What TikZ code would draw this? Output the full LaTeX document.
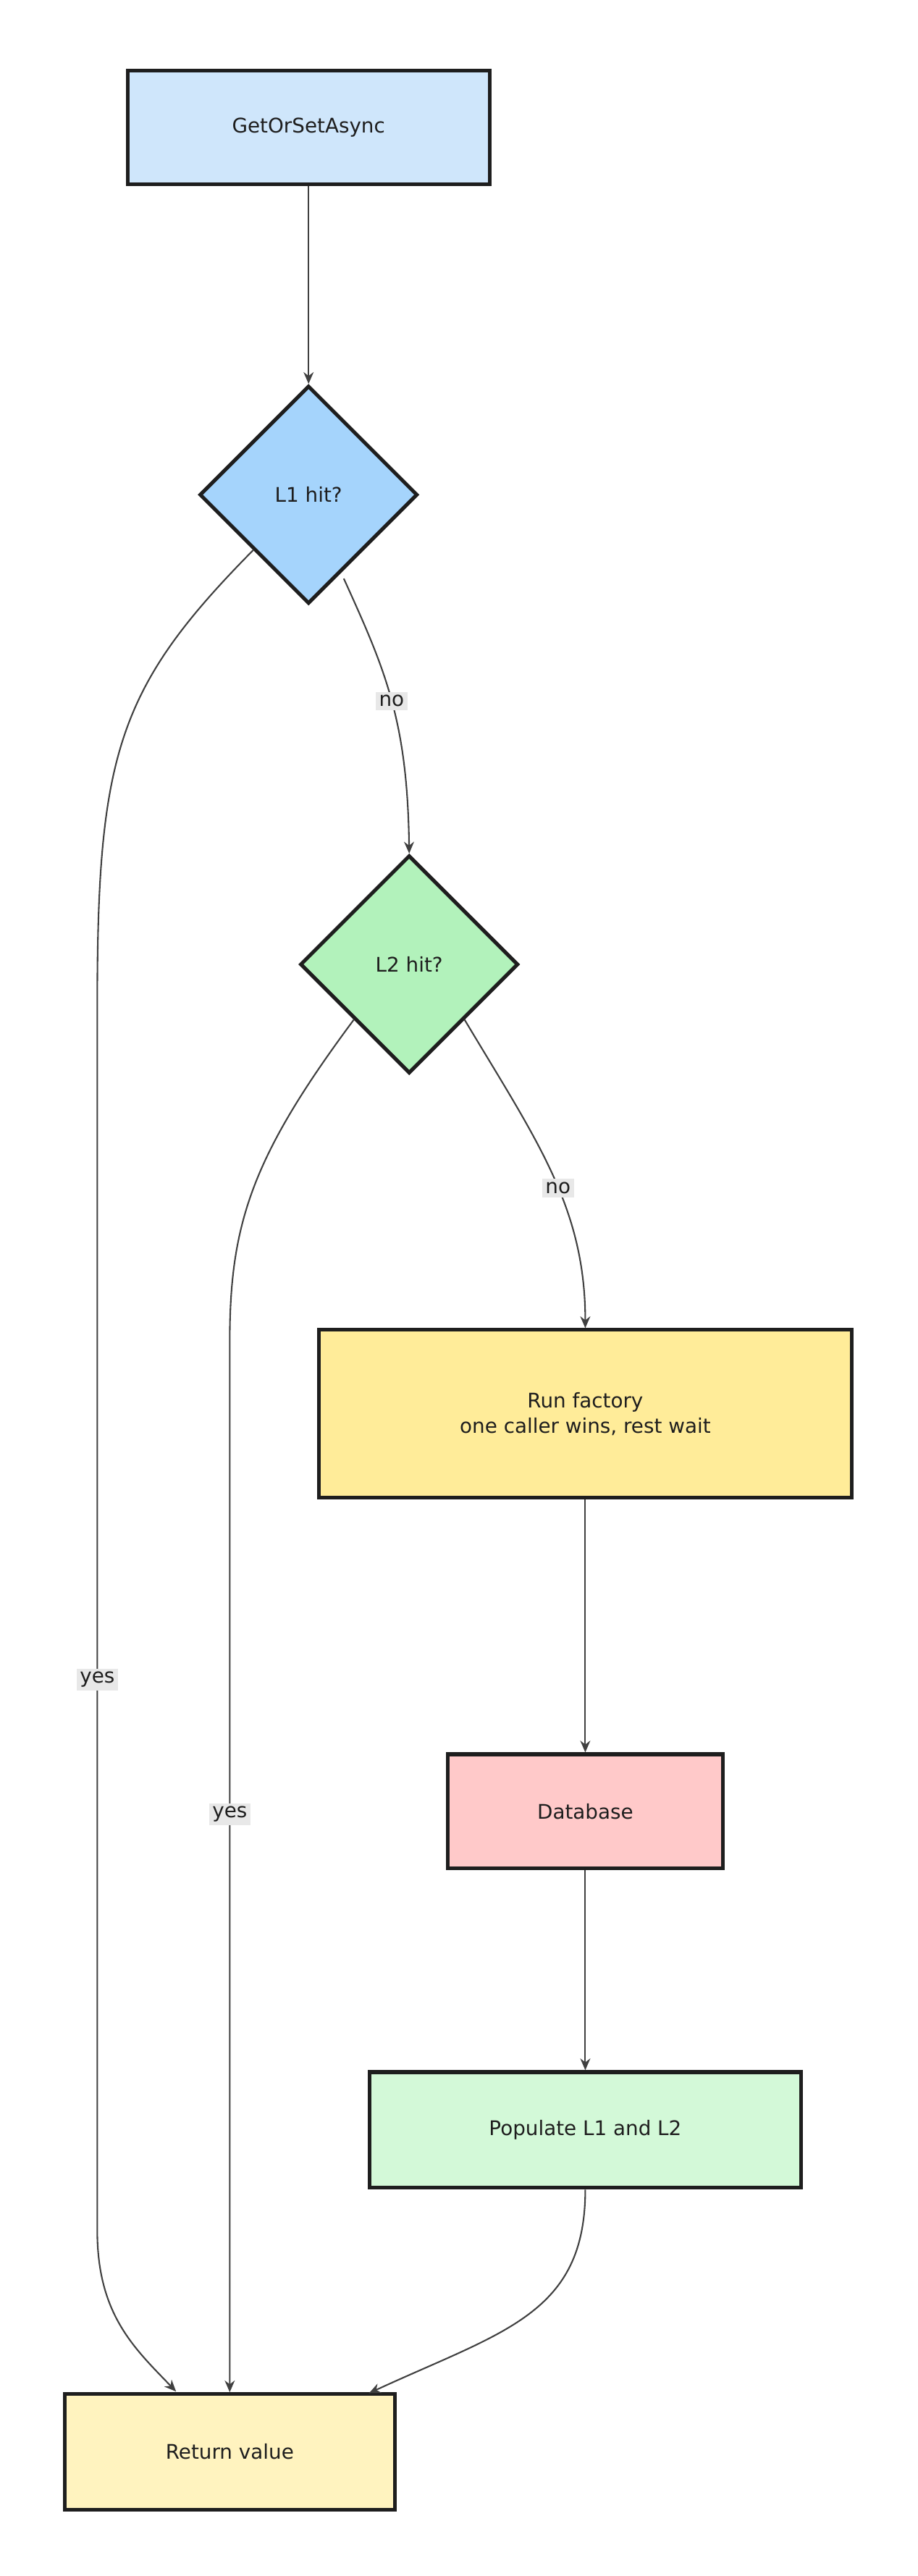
\documentclass[tikz,border=0pt]{standalone}
\usepackage{fontspec}
\setmainfont{DejaVu Sans}
\usetikzlibrary{shapes.geometric,arrows.meta}
\definecolor{cA}{HTML}{CFE6FB}\definecolor{cB}{HTML}{A5D4FC}
\definecolor{cC}{HTML}{B2F2BB}\definecolor{cD}{HTML}{FFEC99}
\definecolor{cE}{HTML}{FFC9C9}\definecolor{cF}{HTML}{D3F9D8}
\definecolor{cG}{HTML}{FFF3BF}\definecolor{lab}{HTML}{E8E8E8}
\definecolor{ink}{HTML}{1E1E1E}
\begin{document}
\begin{tikzpicture}[x=1pt,y=-1pt,
 box/.style={draw=ink,line width=2.2pt,rectangle,font=\fontsize{12}{15}\selectfont,text=ink,align=center},
 dia/.style={draw=ink,line width=2.2pt,diamond,aspect=1,minimum size=130pt,inner sep=0pt,font=\fontsize{12}{15}\selectfont,text=ink},
 e/.style={draw=ink!85,line width=0.9pt,-{Stealth[length=7pt,width=6pt]}},
 l/.style={fill=lab,font=\fontsize{12}{15}\selectfont,text=ink,inner sep=2pt}]
\useasboundingbox (0,0) rectangle (547,1536);
\node[box,fill=cA,minimum width=216pt,minimum height=68pt] (s) at (184,76) {GetOrSetAsync};
\node[dia,fill=cB] (l1) at (184,295) {L1 hit?};
\node[dia,fill=cC] (l2) at (244,575) {L2 hit?};
\node[box,fill=cD,minimum width=318pt,minimum height=100pt] (rf) at (349,843) {Run factory\\one caller wins, rest wait};
\node[box,fill=cE,minimum width=164pt,minimum height=68pt] (db) at (349,1080) {Database};
\node[box,fill=cF,minimum width=257pt,minimum height=69pt] (po) at (349,1270) {Populate L1 and L2};
\node[box,fill=cG,minimum width=197pt,minimum height=69pt] (rv) at (137,1462) {Return value};
\draw[e] (s) -- (l1);
\draw[e] (205,345) .. controls (230,400) and (243,430) .. node[l,pos=0.5]{no} (l2.north);
\draw[e] (l1.south west) .. controls (70,410) and (58,450) .. (58,600) -- node[l,pos=0.55]{yes} (58,1330) .. controls (58,1380) and (80,1400) .. (105,1426);
\draw[e] (l2.south west) .. controls (150,690) and (137,730) .. (137,800) -- node[l,pos=0.45]{yes} (rv.north);
\draw[e] (l2.south east) .. controls (320,680) and (349,720) .. node[l,pos=0.55]{no} (rf.north);
\draw[e] (rf) -- (db);
\draw[e] (db) -- (po);
\draw[e] (po.south) .. controls (349,1380) and (300,1390) .. (220,1427);
\end{tikzpicture}
\end{document}
